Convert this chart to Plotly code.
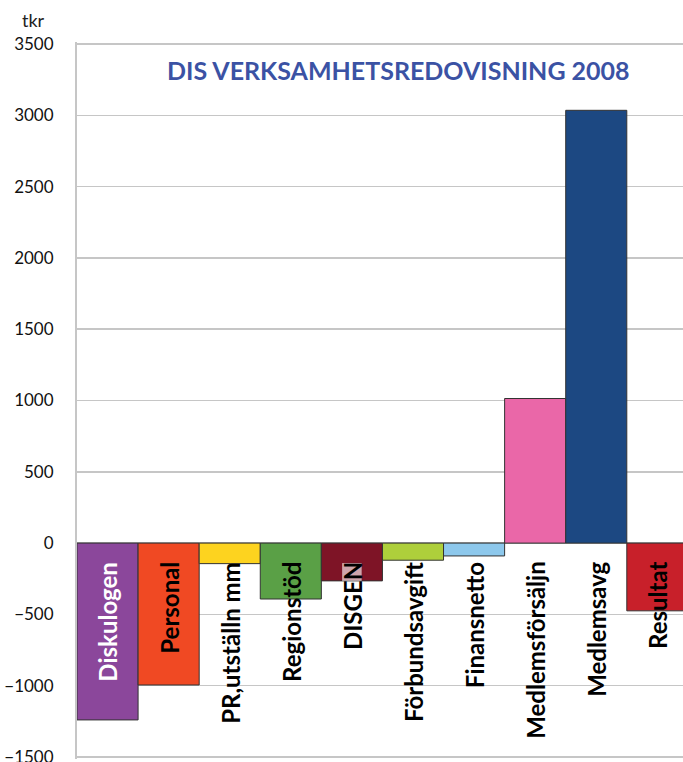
import plotly.graph_objects as go

categories = ["Diskulogen", "Personal", "PR,utställn mm", "Regionstöd", "DISGEN",
              "Förbundsavgift", "Finansnetto", "Medlemsförsäljn", "Medlemsavg", "Resultat"]
values = [-1240, -995, -144, -392, -265, -120, -90, 1014, 3035, -475]
bar_colors = ["#8B479B", "#F04923", "#FDD31F", "#5AA046", "#7E1426",
              "#AECF3B", "#8DC8EC", "#EA67A8", "#1C4882", "#C8202A"]
label_colors = ["white"] + ["black"] * 9
y_ticks = [-1500, -1000, -500, 0, 500, 1000, 1500, 2000, 2500, 3000, 3500]
title_text = "DIS VERKSAMHETSREDOVISNING 2008"
unit_text = "tkr"

FONT = "Lato"

fig = go.Figure()
fig.add_trace(go.Bar(
    x=list(range(len(categories))), y=values,
    marker=dict(color=bar_colors, line=dict(color="#333333", width=1)),
    width=1.0, hoverinfo="skip",
))

for i, (c, col) in enumerate(zip(categories, label_colors)):
    fig.add_annotation(x=i, y=0, xref="x", yref="y", text=f"<b>{c}</b>",
                       textangle=-90, showarrow=False, xanchor="center", yanchor="top",
                       yshift=-17, font=dict(family=FONT, size=24, color=col, weight=900))

# light highlight behind DISGEN label where it overlaps its bar
di = categories.index("DISGEN")
fig.add_shape(type="rect", xref="x", yref="y", x0=di - 0.16, x1=di + 0.16,
              y0=-140, y1=values[di], fillcolor="rgba(255,255,255,0.62)",
              line=dict(width=0), layer="above")

fig.add_annotation(xref="paper", yref="paper", x=0.53, y=0.961, text=f"<b>{title_text}</b>",
                   showarrow=False, xanchor="center", yanchor="middle",
                   font=dict(family=FONT, size=25, color="#3B52A4", weight=900))
fig.add_annotation(xref="paper", yref="paper", x=-0.071, y=1.03, text=unit_text,
                   showarrow=False, xanchor="center", yanchor="middle",
                   font=dict(family=FONT, size=18, color="#222222"))

fig.update_layout(
    width=683, height=762,
    margin=dict(l=77, r=0, t=42, b=3, autoexpand=False),
    plot_bgcolor="white", paper_bgcolor="white",
    bargap=0, showlegend=False,
    xaxis=dict(range=[-0.5, 9.42], showticklabels=False, showgrid=False, zeroline=False,
               showline=False, fixedrange=True, automargin=False),
    yaxis=dict(range=[-1514, 3514], tickvals=y_ticks, showgrid=True, gridcolor="#C6C6C6",
               gridwidth=1.5, zeroline=True, zerolinecolor="#B0B0B0", zerolinewidth=1.5,
               showline=True, linecolor="#C6C6C6", linewidth=2, ticks="",
               ticklabelstandoff=18, automargin=False, fixedrange=True,
               ticklabeloverflow="allow",
               tickfont=dict(family=FONT, size=17, color="#111111")),
)

# remove the default 8px page margin so the figure fills the window exactly
fig.write_html("out.html", post_script="document.body.style.margin='0';",
               config={"displayModeBar": False, "staticPlot": True})
